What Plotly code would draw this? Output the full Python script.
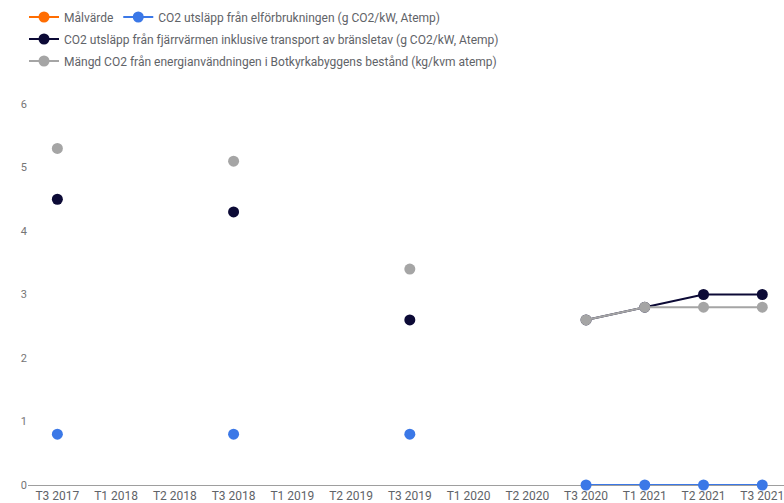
import plotly.graph_objects as go

categories = ["T3 2017", "T1 2018", "T2 2018", "T3 2018", "T1 2019", "T2 2019",
              "T3 2019", "T1 2020", "T2 2020", "T3 2020", "T1 2021", "T2 2021", "T3 2021"]

malvarde = [None] * 13
el_co2 = [0.8, None, None, 0.8, None, None, 0.8, None, None, 0, 0, 0, 0]
fjarrvarme_co2 = [4.5, None, None, 4.3, None, None, 2.6, None, None, 2.6, 2.8, 3.0, 3.0]
mangd_co2 = [5.3, None, None, 5.1, None, None, 3.4, None, None, 2.6, 2.8, 2.8, 2.8]

# (name, values, colour, legend row)
series = [
    ("Målvärde", malvarde, "#ff6d01", "legend"),
    ("CO2 utsläpp från elförbrukningen (g CO2/kW, Atemp)", el_co2, "#3b78e7", "legend"),
    ("CO2 utsläpp från fjärrvärmen inklusive transport av bränsletav (g CO2/kW, Atemp)",
     fjarrvarme_co2, "#0c0a36", "legend2"),
    ("Mängd CO2 från energianvändningen i Botkyrkabyggens bestånd (kg/kvm atemp)",
     mangd_co2, "#a5a5a5", "legend3"),
]

fig = go.Figure()
for name, values, color, leg in series:
    fig.add_trace(go.Scatter(
        x=categories, y=values, name=name, mode="lines+markers",
        line=dict(color=color, width=2),
        marker=dict(color=color, size=11),
        cliponaxis=False, legend=leg,
    ))

legend_font = dict(family="Roboto", size=12, color="#5f6368")


def legend_row(y_px):
    return dict(
        orientation="h", xref="container", x=24 / 784, xanchor="left",
        yref="container", y=1 - y_px / 503, yanchor="middle",
        font=legend_font, itemwidth=30, bgcolor="rgba(0,0,0,0)",
    )


fig.update_layout(
    width=784, height=503,
    margin=dict(l=28, r=0, t=104, b=18),
    paper_bgcolor="white", plot_bgcolor="white",
    font=dict(family="Roboto", size=12, color="#5f6368"),
    showlegend=True,
    legend=legend_row(17),
    legend2=legend_row(39),
    legend3=legend_row(61),
    xaxis=dict(
        type="category", range=[-0.5, 12.37], showgrid=False, showline=False,
        ticks="", tickfont=dict(size=12, color="#5f6368"), tickangle=0,
        ticklabelstandoff=2,
    ),
    yaxis=dict(
        range=[0, 6], tickvals=[0, 1, 2, 3, 4, 5, 6], showgrid=False,
        zeroline=True, zerolinecolor="#9e9e9e", zerolinewidth=1,
        showline=False, ticks="", tickfont=dict(size=11, color="#757575"),
    ),
)

fig.write_html("out.html")
